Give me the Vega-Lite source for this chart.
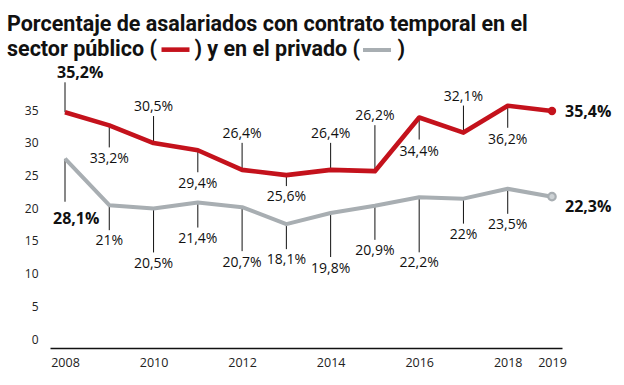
{
  "$schema": "https://vega.github.io/schema/vega-lite/v6.json",
  "width": 512,
  "height": 278,
  "autosize": {"type": "none"},
  "padding": {"left": 50, "top": 70, "right": 62, "bottom": 37},
  "background": "white",
  "title": {
    "text": ["Porcentaje de asalariados con contrato temporal en el", "sector público (\u00a0\u00a0\u00a0\u00a0\u00a0\u00a0\u00a0) y en el privado (\u00a0\u00a0\u00a0\u00a0\u00a0\u00a0\u00a0)"],
    "anchor": "start",
    "frame": "group",
    "font": "Roboto",
    "fontSize": 21.5,
    "fontWeight": "bold",
    "color": "#111111",
    "lineHeight": 25,
    "dx": -43,
    "offset": -27
  },
  "config": {
    "view": {"stroke": null},
    "locale": {"number": {"decimal": ",", "thousands": ".", "grouping": [3], "currency": ["", "%"]}}
  },
  "data": {
    "values": [
      {"year": 2008, "serie": "público", "value": 35.2},
      {"year": 2009, "serie": "público", "value": 33.2},
      {"year": 2010, "serie": "público", "value": 30.5},
      {"year": 2011, "serie": "público", "value": 29.4},
      {"year": 2012, "serie": "público", "value": 26.4},
      {"year": 2013, "serie": "público", "value": 25.6},
      {"year": 2014, "serie": "público", "value": 26.4},
      {"year": 2015, "serie": "público", "value": 26.2},
      {"year": 2016, "serie": "público", "value": 34.4},
      {"year": 2017, "serie": "público", "value": 32.1},
      {"year": 2018, "serie": "público", "value": 36.2},
      {"year": 2019, "serie": "público", "value": 35.4},
      {"year": 2008, "serie": "privado", "value": 28.1},
      {"year": 2009, "serie": "privado", "value": 21},
      {"year": 2010, "serie": "privado", "value": 20.5},
      {"year": 2011, "serie": "privado", "value": 21.4},
      {"year": 2012, "serie": "privado", "value": 20.7},
      {"year": 2013, "serie": "privado", "value": 18.1},
      {"year": 2014, "serie": "privado", "value": 19.8},
      {"year": 2015, "serie": "privado", "value": 20.9},
      {"year": 2016, "serie": "privado", "value": 22.2},
      {"year": 2017, "serie": "privado", "value": 22},
      {"year": 2018, "serie": "privado", "value": 23.5},
      {"year": 2019, "serie": "privado", "value": 22.3}
    ]
  },
  "encoding": {
    "x": {
      "field": "year",
      "type": "quantitative",
      "scale": {"domain": [2007.661, 2019.226], "nice": false, "zero": false},
      "axis": {
        "values": [2008, 2010, 2012, 2014, 2016, 2018, 2019],
        "format": "d",
        "title": null,
        "grid": false,
        "ticks": false,
        "domainColor": "#111111",
        "domainWidth": 1.6,
        "labelFont": "Open Sans",
        "labelFontSize": 12.5,
        "labelColor": "#222222",
        "labelPadding": 8
      }
    },
    "y": {
      "field": "value",
      "type": "quantitative",
      "scale": {"domain": [-0.84, 41.67], "nice": false, "zero": false},
      "axis": {
        "values": [0, 5, 10, 15, 20, 25, 30, 35],
        "title": null,
        "grid": false,
        "ticks": false,
        "domain": false,
        "labelFont": "Open Sans",
        "labelFontSize": 12,
        "labelColor": "#222222",
        "labelPadding": 12,
        "labelOffset": -3.5
      }
    }
  },
  "layer": [
    {
      "transform": [{"filter": {"and": [{"field": "serie", "equal": "público"}, {"field": "year", "oneOf": [2010, 2012, 2014, 2017]}]}}],
      "layer": [
        {"mark": {"type": "rule", "color": "#111111", "strokeWidth": 1, "y2Offset": -27}, "encoding": {"y2": {"field": "value"}}},
        {"mark": {"type": "text", "dy": -36, "font": "Open Sans", "fontSize": 14, "color": "#111111"}, "encoding": {"text": {"field": "value", "type": "quantitative", "format": "$.1~f"}}}
      ]
    },
    {
      "transform": [{"filter": {"and": [{"field": "serie", "equal": "público"}, {"field": "year", "equal": 2015}]}}],
      "layer": [
        {"mark": {"type": "rule", "color": "#111111", "strokeWidth": 1, "y2Offset": -46}, "encoding": {"y2": {"field": "value"}}},
        {"mark": {"type": "text", "dy": -55, "font": "Open Sans", "fontSize": 14, "color": "#111111"}, "encoding": {"text": {"field": "value", "type": "quantitative", "format": "$.1~f"}}}
      ]
    },
    {
      "transform": [{"filter": {"and": [{"field": "serie", "equal": "público"}, {"field": "year", "oneOf": [2009, 2011, 2016, 2018]}]}}],
      "layer": [
        {"mark": {"type": "rule", "color": "#111111", "strokeWidth": 1, "y2Offset": 22}, "encoding": {"y2": {"field": "value"}}},
        {"mark": {"type": "text", "dy": 34, "font": "Open Sans", "fontSize": 14, "color": "#111111"}, "encoding": {"text": {"field": "value", "type": "quantitative", "format": "$.1~f"}}}
      ]
    },
    {
      "transform": [{"filter": {"and": [{"field": "serie", "equal": "público"}, {"field": "year", "equal": 2013}]}}],
      "layer": [
        {"mark": {"type": "rule", "color": "#111111", "strokeWidth": 1, "y2Offset": 11}, "encoding": {"y2": {"field": "value"}}},
        {"mark": {"type": "text", "dy": 22, "font": "Open Sans", "fontSize": 14, "color": "#111111"}, "encoding": {"text": {"field": "value", "type": "quantitative", "format": "$.1~f"}}}
      ]
    },
    {
      "transform": [{"filter": {"and": [{"field": "serie", "equal": "público"}, {"field": "year", "equal": 2008}]}}],
      "layer": [
        {"mark": {"type": "rule", "color": "#111111", "strokeWidth": 1, "y2Offset": -30}, "encoding": {"y2": {"field": "value"}}},
        {"mark": {"type": "text", "dy": -39, "dx": -8, "align": "left", "font": "Open Sans", "fontSize": 16, "fontWeight": "bold", "color": "#111111"}, "encoding": {"text": {"field": "value", "type": "quantitative", "format": "$.1~f"}}}
      ]
    },
    {
      "transform": [{"filter": {"and": [{"field": "serie", "equal": "privado"}, {"field": "year", "oneOf": [2009, 2011, 2013, 2017, 2018]}]}}],
      "layer": [
        {"mark": {"type": "rule", "color": "#111111", "strokeWidth": 1, "y2Offset": 25}, "encoding": {"y2": {"field": "value"}}},
        {"mark": {"type": "text", "dy": 36, "font": "Open Sans", "fontSize": 14, "color": "#111111"}, "encoding": {"text": {"field": "value", "type": "quantitative", "format": "$.1~f"}}}
      ]
    },
    {
      "transform": [{"filter": {"and": [{"field": "serie", "equal": "privado"}, {"field": "year", "oneOf": [2010, 2012, 2014]}]}}],
      "layer": [
        {"mark": {"type": "rule", "color": "#111111", "strokeWidth": 1, "y2Offset": 44}, "encoding": {"y2": {"field": "value"}}},
        {"mark": {"type": "text", "dy": 56, "font": "Open Sans", "fontSize": 14, "color": "#111111"}, "encoding": {"text": {"field": "value", "type": "quantitative", "format": "$.1~f"}}}
      ]
    },
    {
      "transform": [{"filter": {"and": [{"field": "serie", "equal": "privado"}, {"field": "year", "equal": 2015}]}}],
      "layer": [
        {"mark": {"type": "rule", "color": "#111111", "strokeWidth": 1, "y2Offset": 34}, "encoding": {"y2": {"field": "value"}}},
        {"mark": {"type": "text", "dy": 45, "font": "Open Sans", "fontSize": 14, "color": "#111111"}, "encoding": {"text": {"field": "value", "type": "quantitative", "format": "$.1~f"}}}
      ]
    },
    {
      "transform": [{"filter": {"and": [{"field": "serie", "equal": "privado"}, {"field": "year", "equal": 2016}]}}],
      "layer": [
        {"mark": {"type": "rule", "color": "#111111", "strokeWidth": 1, "y2Offset": 55}, "encoding": {"y2": {"field": "value"}}},
        {"mark": {"type": "text", "dy": 66, "font": "Open Sans", "fontSize": 14, "color": "#111111"}, "encoding": {"text": {"field": "value", "type": "quantitative", "format": "$.1~f"}}}
      ]
    },
    {
      "transform": [{"filter": {"and": [{"field": "serie", "equal": "privado"}, {"field": "year", "equal": 2008}]}}],
      "layer": [
        {"mark": {"type": "rule", "color": "#111111", "strokeWidth": 1, "y2Offset": 43}, "encoding": {"y2": {"field": "value"}}},
        {"mark": {"type": "text", "dy": 60, "dx": -12, "align": "left", "font": "Open Sans", "fontSize": 16, "fontWeight": "bold", "color": "#111111"}, "encoding": {"text": {"field": "value", "type": "quantitative", "format": "$.1~f"}}}
      ]
    },
    {
      "mark": {"type": "line", "strokeJoin": "round"},
      "encoding": {
        "color": {
          "field": "serie",
          "type": "nominal",
          "scale": {"domain": ["público", "privado"], "range": ["#c4121c", "#a8aeb2"]},
          "legend": {
            "orient": "none",
            "legendX": 109,
            "legendY": -37,
            "direction": "horizontal",
            "title": null,
            "labelExpr": "''",
            "symbolType": "stroke",
            "symbolSize": 784,
            "symbolStrokeWidth": 5,
            "columnPadding": 156,
            "labelOffset": 0,
            "padding": 0
          }
        },
        "strokeWidth": {
          "field": "serie",
          "type": "nominal",
          "scale": {"domain": ["público", "privado"], "range": [4.6, 4]},
          "legend": null
        }
      }
    },
    {
      "transform": [{"filter": {"and": [{"field": "serie", "equal": "público"}, {"field": "year", "equal": 2019}]}}],
      "layer": [
        {"mark": {"type": "circle", "size": 70, "color": "#c4121c", "opacity": 1}},
        {"mark": {"type": "text", "dx": 13, "dy": 1, "align": "left", "font": "Open Sans", "fontSize": 16, "fontWeight": "bold", "color": "#111111"}, "encoding": {"text": {"field": "value", "type": "quantitative", "format": "$.1~f"}}}
      ]
    },
    {
      "transform": [{"filter": {"and": [{"field": "serie", "equal": "privado"}, {"field": "year", "equal": 2019}]}}],
      "layer": [
        {"mark": {"type": "circle", "size": 55, "fill": "#cdd2d5", "stroke": "#a8aeb2", "strokeWidth": 2.2, "opacity": 1}},
        {"mark": {"type": "text", "dx": 13, "dy": 10, "align": "left", "font": "Open Sans", "fontSize": 16, "fontWeight": "bold", "color": "#111111"}, "encoding": {"text": {"field": "value", "type": "quantitative", "format": "$.1~f"}}}
      ]
    }
  ]
}
